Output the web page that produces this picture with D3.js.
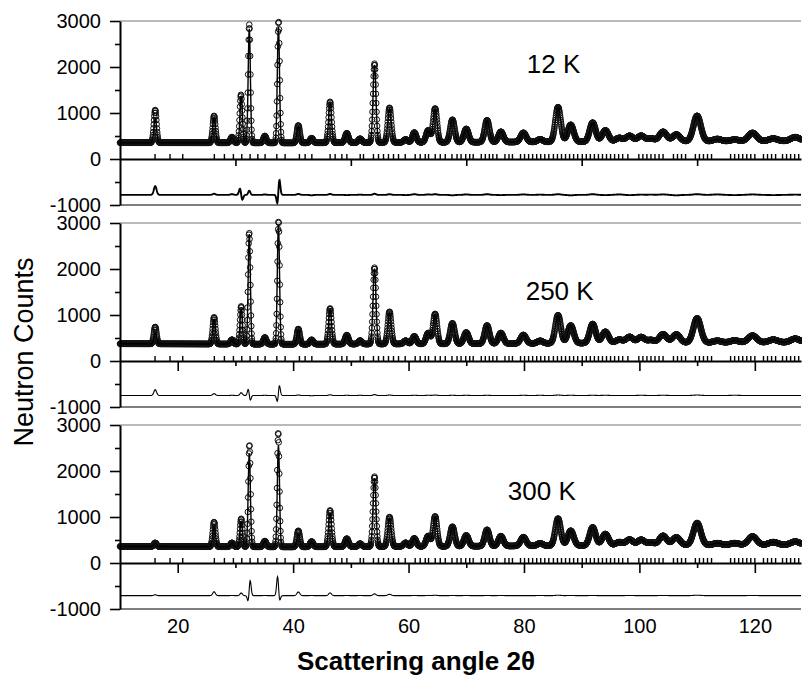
<!DOCTYPE html>
<html lang="en">
<head>
<meta charset="utf-8">
<title>Neutron diffraction patterns at 12 K, 250 K and 300 K</title>
<style>
body { margin: 0; background: #fff; }
svg { display: block; font-family: "Liberation Sans", Arial, Helvetica, sans-serif; }
.axis line { stroke: #000; stroke-width: 1.6; }
.axis path { stroke: #000; stroke-width: 2; }
.temp { font-size: 26px; }
.title-y { font-size: 27px; }
.title-x { font-size: 26px; font-weight: bold; }
</style>
</head>
<body>
<svg width="802" height="683"></svg>
<script src="https://cdn.jsdelivr.net/npm/d3@7/dist/d3.min.js"></script>
<script>

// reflections: 2theta position and width (FWHM, degrees)
const peakPos  = [16.1, 26.3, 29.4, 31.0, 32.4, 35.1, 37.45, 40.9, 43.2, 46.4,
                  49.3, 51.6, 54.1, 56.7, 59.5, 61.0, 63.4, 64.6, 67.6, 70.0,
                  73.6, 76.0, 79.9, 82.8, 85.9, 88.1, 91.9, 94.1, 96.5, 98.3,
                  100.3, 102.0, 104.1, 106.4, 110.0, 113.5, 116.5, 119.6, 123.2, 127.0];
const peakFwhm = [0.55, 0.55, 0.6, 0.5, 0.45, 0.6, 0.45, 0.6, 0.65, 0.6,
                  0.7, 0.7, 0.6, 0.7, 0.8, 0.8, 0.85, 0.8, 0.9, 0.95,
                  0.95, 1.0, 1.1, 1.1, 1.1, 1.2, 1.2, 1.3, 1.4, 1.4,
                  1.4, 1.4, 1.5, 1.5, 1.5, 1.6, 1.7, 1.7, 1.8, 1.8];

// peak heights above background (counts): calculated and observed
const calc12K  = [520, 560, 110, 1020, 2480, 140, 2516, 360, 110, 870,
                  210, 80, 1690, 740, 70, 200, 250, 720, 500, 280,
                  460, 230, 190, 50, 740, 380, 400, 250, 70, 130,
                  120, 60, 200, 160, 540, 40, 40, 170, 60, 80];
const obs12K   = [710, 585, 125, 1045, 2570, 150, 2640, 380, 100, 890,
                  205, 85, 1715, 755, 65, 215, 260, 735, 490, 290,
                  475, 225, 200, 55, 755, 370, 415, 245, 80, 125,
                  125, 65, 210, 150, 555, 50, 35, 180, 55, 85];
const calc250K = [240, 540, 90, 760, 2390, 140, 2600, 320, 100, 760,
                  190, 70, 1640, 690, 70, 160, 230, 640, 440, 240,
                  390, 230, 180, 50, 600, 380, 410, 240, 70, 130,
                  120, 60, 180, 180, 520, 40, 40, 150, 60, 80];
const obs250K  = [367, 580, 95, 820, 2418, 145, 2670, 330, 95, 775,
                  195, 75, 1660, 700, 70, 165, 235, 650, 445, 245,
                  395, 230, 185, 55, 610, 385, 415, 245, 70, 130,
                  125, 60, 185, 180, 530, 40, 45, 150, 60, 80];
const calc300K = [60, 450, 80, 550, 2030, 120, 2210, 270, 110, 730,
                  170, 60, 1480, 610, 80, 170, 220, 640, 420, 230,
                  350, 210, 190, 50, 580, 320, 390, 250, 70, 120,
                  120, 60, 200, 170, 470, 40, 40, 180, 60, 70];
const obs300K  = [80, 535, 85, 608, 2214, 125, 2480, 350, 115, 790,
                  175, 65, 1520, 640, 80, 175, 225, 650, 425, 235,
                  355, 215, 190, 55, 590, 325, 395, 250, 70, 125,
                  120, 60, 205, 170, 480, 40, 40, 185, 60, 70];

// small misplacements of observed peaks (2theta, shift in degrees)
const shift12K  = [[31.0, -0.04], [37.45, 0.03]];
const shift250K = [[37.45, 0.02], [32.4, -0.015]];
const shift300K = [[32.4, 0.03], [37.45, -0.03]];

// background level (counts) at a few angles
const bgAngles = [10, 40, 70, 100, 128];
const bg12K    = [355, 350, 365, 380, 390];
const bg250K   = [375, 365, 375, 395, 405];
const bg300K   = [360, 350, 365, 385, 395];

// offset of the difference curve
const diffBase = [-780, -750, -710];

const panelNames = ['12 K', '250 K', '300 K'];

// Bragg reflection markers
const braggPos = [16.07, 18.67, 20.87, 26.35, 28.09, 29.65, 31.1, 32.54, 33.88, 35.14,
  37.17, 38.61, 41.09, 42.08, 43.24, 46.41, 47.28, 48.44, 49.31, 51.62, 52.19, 53.92,
  54.79, 55.66, 56.52, 57.39, 58.26, 59.42, 61.15, 62.02, 62.89, 63.46, 64.62, 65.49,
  66.36, 67.52, 68.4, 69.1, 69.9, 70.6, 71.2, 72.6, 73.3, 74.0, 74.6, 75.3, 76.7, 77.4,
  78.0, 79.4, 80.1, 80.8, 81.5, 82.2, 82.9, 83.6, 84.3, 85.1, 85.8, 86.5, 87.2, 87.9,
  88.6, 89.3, 90.1, 90.8, 91.5, 92.2, 92.9, 93.6, 94.3, 95.0, 95.7, 96.4, 97.1, 98.0,
  99.9, 100.6, 101.3, 102.0, 102.7, 103.4, 104.1, 105.9, 106.6, 107.3, 108.0, 109.7,
  110.4, 111.1, 111.8, 112.5, 115.8, 116.5, 117.2, 117.9, 118.6, 119.3, 120.0, 121.5,
  122.2, 122.9, 123.6, 124.8, 125.5, 126.2, 126.9, 127.6];

const yMajor = [-1000, 0, 1000, 2000, 3000];
const yMinor = [-500, 500, 1500, 2500];
const xMajor = [20, 40, 60, 80, 100, 120];
const xMinor = [30, 50, 70, 90, 110];

const svg = d3.select('svg');
const x = d3.scaleLinear().domain([10, 128]).range([120, 801]);
const panelTop = [21, 223, 425], panelH = 184;

// scan points (instrument step)
const angles = d3.range(10, 128.0001, 0.05);

function profile(t, amps, bgScale, shifts) {
  let v = bgScale(t);
  for (let i = 0; i < peakPos.length; i++) {
    const c = peakPos[i] + (shifts.get(peakPos[i]) || 0);
    const w = peakFwhm[i];
    const dx = t - c;
    if (Math.abs(dx) > 4 * w) continue;
    v += amps[i] * Math.exp(-4 * Math.LN2 * dx * dx / (w * w));
  }
  return v;
}

// tick label look, applied after each axis call
function tickText(a) {
  a.selectAll('text')
    .style('font-size', '20px')
    .style('font-family', '"Liberation Sans", Arial, Helvetica, sans-serif')
    .style('fill', '#000');
}

const panels = [
  {calc: calc12K, obs: obs12K, shift: shift12K, bg: bg12K},
  {calc: calc250K, obs: obs250K, shift: shift250K, bg: bg250K},
  {calc: calc300K, obs: obs300K, shift: shift300K, bg: bg300K}
];

// temperature label anchor (2theta, counts) per panel
const labelAt = [[80.5, 1870], [80.3, 1330], [77.2, 1370]];

panels.forEach((p, k) => {
  const y = d3.scaleLinear().domain([-1000, 3000]).range([panelTop[k] + panelH, panelTop[k]]);
  const bgScale = d3.scaleLinear().domain(bgAngles).range(p.bg);
  const noShift = new Map();
  const obsShift = new Map(p.shift);

  const rows = angles.map(t => {
    const calc = profile(t, p.calc, bgScale, noShift);
    const obs = profile(t, p.obs, bgScale, obsShift);
    return {t, calc, obs, diff: obs - calc + diffBase[k]};
  });

  const g = svg.append('g');

  // frame lines at 3000 and -1000
  g.append('line')
    .attr('x1', x.range()[0]).attr('x2', x.range()[1])
    .attr('y1', y(3000)).attr('y2', y(3000))
    .attr('stroke', '#777').attr('stroke-width', 1.2);
  g.append('line')
    .attr('x1', x.range()[0]).attr('x2', x.range()[1])
    .attr('y1', y(-1000)).attr('y2', y(-1000))
    .attr('stroke', '#555').attr('stroke-width', 1.4);

  // observed points
  g.append('g')
    .selectAll('circle')
    .data(rows)
    .enter().append('circle')
      .attr('cx', d => x(d.t))
      .attr('cy', d => y(d.obs))
      .attr('r', 2.8)
      .attr('fill', 'none')
      .attr('stroke', '#111')
      .attr('stroke-width', 1);

  // calculated profile
  g.append('path')
    .datum(rows)
    .attr('fill', 'none')
    .attr('stroke', '#000')
    .attr('stroke-width', 1.4)
    .attr('d', d3.line().x(d => x(d.t)).y(d => y(d.calc)));

  // difference curve
  g.append('path')
    .datum(rows)
    .attr('fill', 'none')
    .attr('stroke', '#000')
    .attr('stroke-width', k === 0 ? 1.9 : 1.1)
    .attr('d', d3.line().x(d => x(d.t)).y(d => y(d.diff)));

  // Bragg markers
  g.append('g')
    .selectAll('line')
    .data(braggPos)
    .enter().append('line')
      .attr('x1', d => x(d)).attr('x2', d => x(d))
      .attr('y1', y(0)).attr('y2', y(0) - 5)
      .attr('stroke', '#000')
      .attr('stroke-width', 1.4);

  // zero line with 2theta ticks
  if (k === 0) {
    g.append('g')
      .attr('class', 'axis')
      .attr('transform', 'translate(0,' + y(0) + ')')
      .call(d3.axisBottom(x).tickValues(xMinor).tickSize(7).tickSizeOuter(0).tickFormat(''));
  } else {
    g.append('g')
      .attr('class', 'axis')
      .attr('transform', 'translate(0,' + y(0) + ')')
      .call(d3.axisBottom(x).tickValues(xMajor).tickSize(10).tickSizeOuter(0).tickFormat(''));
    g.append('g')
      .attr('class', 'axis')
      .attr('transform', 'translate(0,' + y(0) + ')')
      .call(d3.axisBottom(x).tickValues(xMinor).tickSize(5).tickFormat(''))
      .call(a => a.select('.domain').remove());
  }

  if (k === 2) {
    g.append('g')
      .attr('class', 'axis')
      .attr('transform', 'translate(0,' + y(-1000) + ')')
      .call(d3.axisBottom(x).tickValues(xMajor).tickSize(0).tickPadding(10).tickFormat(d => String(d)))
      .call(tickText)
      .call(a => a.select('.domain').remove());
  }

  // counts axis
  g.append('g')
    .attr('class', 'axis')
    .attr('transform', 'translate(' + x.range()[0] + ',0)')
    .call(d3.axisLeft(y).tickValues(yMajor).tickSize(10).tickSizeOuter(0).tickPadding(9)
      .tickFormat(d => String(d)))
    .call(tickText);
  g.append('g')
    .attr('class', 'axis')
    .attr('transform', 'translate(' + x.range()[0] + ',0)')
    .call(d3.axisLeft(y).tickValues(yMinor).tickSize(5).tickFormat(''))
    .call(a => a.select('.domain').remove());

  g.append('text')
    .attr('class', 'temp')
    .attr('x', x(labelAt[k][0]))
    .attr('y', y(labelAt[k][1]))
    .text(panelNames[k]);
});

svg.append('text')
  .attr('class', 'title-y')
  .attr('text-anchor', 'middle')
  .attr('transform', 'translate(33,352) rotate(-90)')
  .text('Neutron Counts');

svg.append('text')
  .attr('class', 'title-x')
  .attr('text-anchor', 'middle')
  .attr('x', 416)
  .attr('y', 670)
  .text('Scattering angle 2θ');

</script>
</body>
</html>
